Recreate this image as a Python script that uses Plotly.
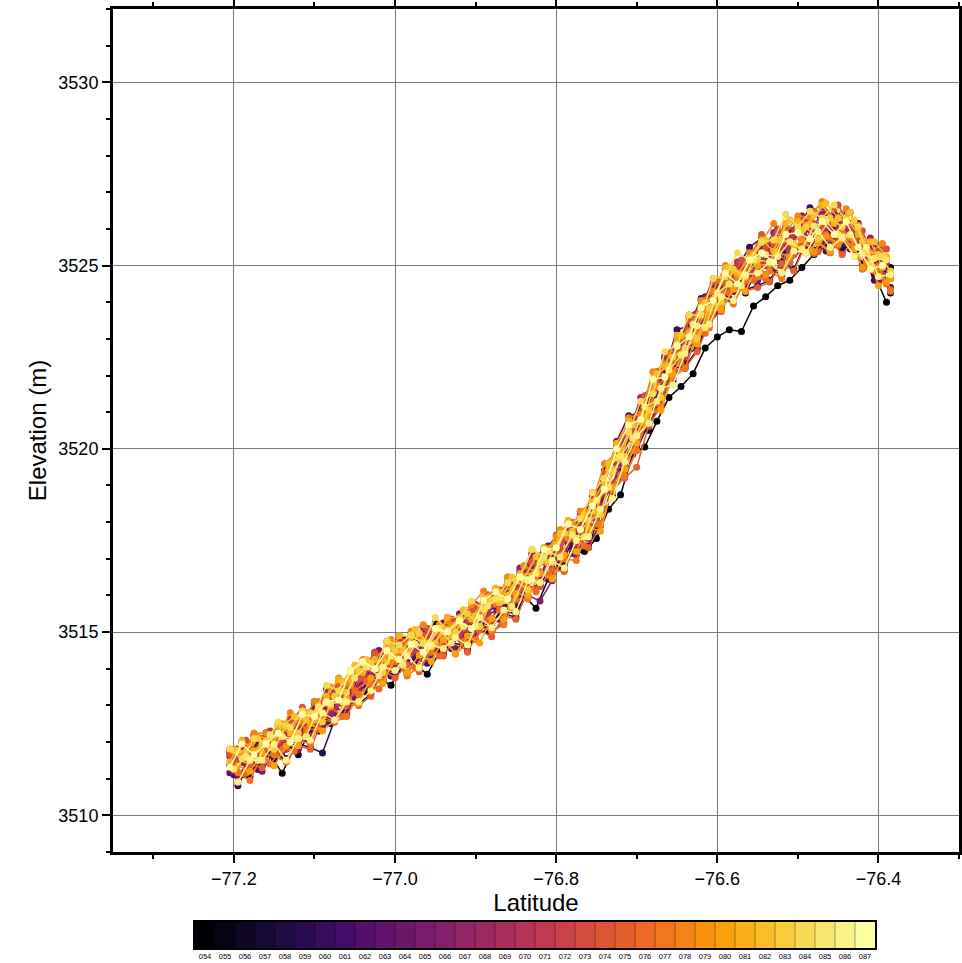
import plotly.graph_objects as go
from plotly.colors import sample_colorscale

# Three along-track sampling grids (repeat tracks are not sampled at identical latitudes)
LAT_A = [
    -77.200, -77.185, -77.170, -77.155, -77.140, -77.125, -77.110, -77.095, -77.080, -77.065, -77.050,
    -77.035, -77.020, -77.005, -76.990, -76.975, -76.960, -76.945, -76.930, -76.915, -76.900, -76.885,
    -76.870, -76.855, -76.840, -76.825, -76.810, -76.795, -76.780, -76.765, -76.750, -76.735, -76.720,
    -76.705, -76.690, -76.675, -76.660, -76.645, -76.630, -76.615, -76.600, -76.585, -76.570, -76.555,
    -76.540, -76.525, -76.510, -76.495, -76.480, -76.465, -76.450, -76.435, -76.420, -76.405, -76.390,
]
LAT_B = [
    -77.195, -77.180, -77.165, -77.150, -77.135, -77.120, -77.105, -77.090, -77.075, -77.060, -77.045,
    -77.030, -77.015, -77.000, -76.985, -76.970, -76.955, -76.940, -76.925, -76.910, -76.895, -76.880,
    -76.865, -76.850, -76.835, -76.820, -76.805, -76.790, -76.775, -76.760, -76.745, -76.730, -76.715,
    -76.700, -76.685, -76.670, -76.655, -76.640, -76.625, -76.610, -76.595, -76.580, -76.565, -76.550,
    -76.535, -76.520, -76.505, -76.490, -76.475, -76.460, -76.445, -76.430, -76.415, -76.400, -76.385,
]
LAT_C = [
    -77.205, -77.190, -77.175, -77.160, -77.145, -77.130, -77.115, -77.100, -77.085, -77.070, -77.055,
    -77.040, -77.025, -77.010, -76.995, -76.980, -76.965, -76.950, -76.935, -76.920, -76.905, -76.890,
    -76.875, -76.860, -76.845, -76.830, -76.815, -76.800, -76.785, -76.770, -76.755, -76.740, -76.725,
    -76.710, -76.695, -76.680, -76.665, -76.650, -76.635, -76.620, -76.605, -76.590, -76.575, -76.560,
    -76.545, -76.530, -76.515, -76.500, -76.485, -76.470, -76.455, -76.440, -76.425, -76.410, -76.395,
]

CYCLES = ["054", "055", "056", "057", "058", "059", "060", "061", "062", "063", "064", "065",
          "066", "067", "068", "069", "070", "071", "072", "073", "074", "075", "076", "077",
          "078", "079", "080", "081", "082", "083", "084", "085", "086", "087"]

# sampling grid used by each cycle, in the same order as CYCLES
CYCLE_GRID = ["A", "B", "C", "B", "A", "B", "C", "A", "B", "C", "A", "B",
              "C", "A", "C", "B", "A", "C", "B", "A", "C", "B", "A", "B",
              "C", "A", "B", "C", "A", "B", "C", "A", "B", "C"]

# Surface elevation (m) per repeat cycle
ELEV_054 = [3511.16, 3511.10, 3511.45, 3511.65, 3511.15, 3511.85, 3512.25, 3512.30, 3512.65, 3512.80, 3513.20,
            3513.35, 3513.75, 3513.55, 3514.10, 3514.12, 3513.85, 3514.45, 3514.70, 3514.65, 3515.00, 3515.02,
            3515.40, 3515.60, 3516.00, 3515.65, 3516.45, 3516.80, 3517.15, 3517.20, 3517.55, 3518.35, 3518.75,
            3519.85, 3520.05, 3520.75, 3521.40, 3521.70, 3522.05, 3522.75, 3523.05, 3523.25, 3523.20, 3523.90,
            3524.15, 3524.45, 3524.60, 3524.95, 3525.30, 3525.55, 3525.60, 3525.50, 3525.05, 3524.75, 3524.00]
ELEV_055 = [3511.61, 3511.35, 3511.85, 3511.60, 3512.15, 3512.15, 3512.75, 3512.45, 3513.00, 3513.10, 3513.75,
            3513.55, 3514.20, 3514.15, 3514.70, 3514.32, 3514.70, 3514.50, 3515.10, 3515.05, 3515.55, 3515.37,
            3515.95, 3515.75, 3516.40, 3516.50, 3517.25, 3517.05, 3517.60, 3517.55, 3518.55, 3518.95, 3519.90,
            3520.10, 3521.00, 3521.45, 3522.35, 3522.35, 3523.25, 3523.40, 3524.35, 3524.30, 3524.75, 3524.70,
            3525.35, 3525.15, 3525.85, 3525.50, 3525.98, 3525.75, 3526.20, 3525.50, 3525.55, 3524.70, 3524.95]
ELEV_056 = [3511.36, 3512.00, 3511.85, 3512.25, 3511.90, 3512.45, 3512.50, 3513.10, 3512.80, 3513.55, 3513.65,
            3513.90, 3514.40, 3514.10, 3514.65, 3514.87, 3514.65, 3515.25, 3515.00, 3515.30, 3515.20, 3515.87,
            3516.15, 3516.05, 3516.65, 3516.50, 3517.25, 3517.35, 3518.00, 3517.85, 3518.35, 3519.40, 3519.65,
            3520.25, 3521.15, 3521.60, 3522.50, 3522.50, 3523.40, 3523.55, 3524.50, 3524.45, 3524.90, 3524.85,
            3525.10, 3525.70, 3525.60, 3526.05, 3525.73, 3526.30, 3526.05, 3526.05, 3525.40, 3525.50, 3524.80]
ELEV_057 = [3511.16, 3511.05, 3511.80, 3511.55, 3511.95, 3511.65, 3512.35, 3512.40, 3512.95, 3512.80, 3513.40,
            3513.65, 3513.70, 3514.25, 3513.90, 3514.32, 3514.70, 3514.45, 3514.90, 3514.55, 3515.20, 3515.22,
            3515.70, 3515.50, 3516.15, 3516.25, 3517.00, 3516.80, 3517.35, 3517.30, 3518.30, 3518.70, 3519.65,
            3520.40, 3520.50, 3521.65, 3521.85, 3522.55, 3522.75, 3523.60, 3523.85, 3524.55, 3524.25, 3524.90,
            3525.00, 3524.70, 3525.45, 3525.50, 3525.43, 3525.95, 3525.45, 3525.60, 3525.15, 3524.95, 3524.25]
ELEV_058 = [3511.16, 3511.75, 3511.70, 3512.25, 3512.05, 3512.60, 3512.35, 3512.85, 3512.95, 3513.65, 3513.40,
            3513.65, 3514.30, 3514.25, 3514.80, 3514.42, 3514.80, 3514.60, 3515.20, 3515.15, 3515.65, 3515.47,
            3515.65, 3516.25, 3516.10, 3517.00, 3517.00, 3517.55, 3517.50, 3518.05, 3518.15, 3519.45, 3519.75,
            3520.35, 3521.25, 3521.40, 3522.15, 3523.00, 3523.10, 3523.90, 3523.85, 3524.65, 3525.05, 3525.00,
            3525.15, 3525.45, 3525.40, 3526.15, 3526.13, 3525.95, 3525.75, 3526.15, 3525.70, 3525.00, 3525.15]
ELEV_059 = [3510.81, 3511.45, 3511.35, 3511.90, 3511.55, 3511.95, 3511.85, 3511.70, 3512.60, 3513.10, 3513.05,
            3513.30, 3514.00, 3513.80, 3514.15, 3513.97, 3514.55, 3514.40, 3514.90, 3514.50, 3515.10, 3515.17,
            3515.50, 3515.40, 3516.20, 3516.30, 3516.75, 3516.70, 3517.55, 3517.35, 3517.95, 3519.00, 3519.25,
            3520.00, 3520.70, 3521.20, 3522.20, 3522.25, 3522.70, 3523.50, 3523.80, 3524.45, 3524.35, 3524.45,
            3524.60, 3525.10, 3524.90, 3525.65, 3525.43, 3525.80, 3525.35, 3525.75, 3525.10, 3525.05, 3524.40]
ELEV_060 = [3511.71, 3511.45, 3512.00, 3511.90, 3512.45, 3512.30, 3512.75, 3512.65, 3513.45, 3513.30, 3513.80,
            3514.05, 3513.95, 3514.75, 3514.50, 3514.52, 3515.00, 3514.70, 3515.25, 3515.25, 3515.75, 3515.52,
            3515.70, 3516.30, 3516.30, 3517.15, 3517.00, 3517.50, 3517.45, 3518.20, 3518.60, 3519.05, 3520.20,
            3520.90, 3521.00, 3521.85, 3522.15, 3523.25, 3523.35, 3524.10, 3524.05, 3524.90, 3524.95, 3525.50,
            3525.75, 3525.45, 3526.05, 3526.00, 3526.58, 3526.15, 3526.40, 3526.10, 3526.15, 3525.15, 3525.45]
ELEV_061 = [3511.11, 3511.60, 3511.25, 3511.80, 3511.60, 3512.30, 3512.10, 3512.55, 3512.50, 3513.25, 3513.25,
            3513.50, 3513.85, 3513.80, 3514.45, 3514.27, 3514.15, 3514.70, 3514.55, 3515.20, 3514.95, 3515.37,
            3515.35, 3516.05, 3516.00, 3516.60, 3516.45, 3517.25, 3517.30, 3517.95, 3517.85, 3518.95, 3519.40,
            3520.05, 3520.95, 3521.10, 3522.10, 3522.50, 3523.30, 3523.35, 3524.00, 3524.10, 3524.90, 3524.75,
            3524.75, 3525.35, 3525.10, 3525.45, 3525.78, 3525.40, 3525.90, 3525.45, 3525.30, 3524.60, 3524.90]
ELEV_062 = [3511.81, 3511.60, 3512.05, 3511.80, 3512.20, 3512.05, 3512.80, 3512.80, 3513.20, 3513.10, 3513.95,
            3514.20, 3513.95, 3514.50, 3514.25, 3514.87, 3514.75, 3515.25, 3514.95, 3515.30, 3515.20, 3515.82,
            3516.10, 3516.00, 3516.75, 3516.55, 3517.15, 3517.20, 3517.85, 3517.90, 3518.70, 3518.90, 3520.00,
            3520.60, 3520.70, 3521.85, 3522.30, 3522.55, 3523.45, 3523.55, 3524.50, 3524.50, 3524.60, 3525.15,
            3525.40, 3525.40, 3525.95, 3525.60, 3525.88, 3526.20, 3526.40, 3525.70, 3525.55, 3525.35, 3524.80]
ELEV_063 = [3511.16, 3511.80, 3511.70, 3512.25, 3511.85, 3512.30, 3512.20, 3512.90, 3512.95, 3513.55, 3513.45,
            3513.65, 3514.20, 3514.00, 3514.70, 3514.52, 3514.90, 3514.70, 3515.10, 3514.90, 3515.65, 3515.47,
            3515.70, 3516.35, 3516.15, 3516.65, 3517.25, 3517.15, 3517.80, 3517.60, 3518.45, 3519.35, 3519.75,
            3520.30, 3520.95, 3521.30, 3522.45, 3522.85, 3523.10, 3523.35, 3524.35, 3524.60, 3524.60, 3525.20,
            3525.45, 3525.15, 3525.70, 3525.50, 3526.08, 3525.95, 3526.30, 3525.60, 3525.60, 3524.95, 3525.10]
ELEV_064 = [3511.76, 3511.45, 3512.10, 3512.05, 3512.45, 3512.20, 3512.75, 3512.65, 3513.45, 3513.35, 3513.80,
            3513.95, 3514.50, 3514.25, 3514.65, 3514.62, 3515.10, 3514.70, 3515.35, 3515.35, 3515.25, 3515.92,
            3516.10, 3516.15, 3516.60, 3516.55, 3517.35, 3517.70, 3517.65, 3518.10, 3518.30, 3519.40, 3520.25,
            3520.85, 3521.00, 3522.10, 3522.15, 3523.05, 3523.25, 3524.15, 3524.05, 3524.80, 3524.65, 3525.35,
            3525.40, 3526.00, 3525.90, 3526.35, 3526.03, 3526.45, 3526.25, 3526.45, 3525.60, 3525.60, 3525.20]
ELEV_065 = [3511.06, 3511.55, 3511.20, 3511.75, 3511.95, 3511.80, 3512.50, 3512.35, 3512.75, 3512.75, 3513.50,
            3513.80, 3513.65, 3514.20, 3513.85, 3514.42, 3514.35, 3514.85, 3514.55, 3514.75, 3515.25, 3515.02,
            3515.25, 3515.90, 3516.00, 3515.85, 3516.40, 3517.10, 3517.10, 3517.90, 3517.90, 3518.85, 3519.25,
            3520.00, 3520.95, 3521.25, 3522.10, 3522.20, 3523.20, 3523.40, 3524.00, 3524.05, 3524.85, 3524.60,
            3524.90, 3524.75, 3525.55, 3525.35, 3525.78, 3525.35, 3525.80, 3525.45, 3525.45, 3524.55, 3524.65]
ELEV_066 = [3511.61, 3511.65, 3512.15, 3511.80, 3512.20, 3512.65, 3512.50, 3513.05, 3512.80, 3513.55, 3513.65,
            3514.15, 3513.90, 3514.50, 3514.40, 3514.97, 3514.60, 3515.00, 3514.80, 3515.50, 3515.35, 3515.82,
            3516.10, 3515.95, 3516.75, 3516.70, 3517.15, 3517.15, 3517.85, 3517.95, 3518.70, 3518.90, 3520.00,
            3520.65, 3520.70, 3521.85, 3522.30, 3522.65, 3523.60, 3523.55, 3524.30, 3524.55, 3525.05, 3524.80,
            3525.00, 3525.55, 3525.55, 3526.15, 3525.98, 3526.40, 3525.90, 3526.00, 3525.55, 3525.50, 3524.75]
ELEV_067 = [3511.21, 3511.85, 3511.70, 3512.10, 3511.75, 3512.45, 3512.45, 3513.05, 3512.75, 3513.40, 3513.45,
            3513.65, 3514.25, 3514.00, 3514.55, 3514.52, 3514.95, 3514.70, 3515.05, 3514.90, 3515.65, 3515.47,
            3515.65, 3516.35, 3516.15, 3516.65, 3517.15, 3517.00, 3517.80, 3517.80, 3518.40, 3518.90, 3520.10,
            3520.70, 3520.80, 3521.70, 3521.90, 3522.75, 3522.90, 3523.85, 3524.05, 3524.60, 3524.45, 3525.25,
            3525.45, 3525.15, 3525.70, 3525.50, 3526.13, 3525.95, 3526.30, 3525.70, 3525.60, 3524.85, 3525.05]
ELEV_068 = [3511.76, 3511.50, 3512.05, 3511.95, 3512.50, 3512.20, 3512.70, 3512.80, 3513.40, 3513.15, 3513.95,
            3513.95, 3514.45, 3514.15, 3514.70, 3514.52, 3515.15, 3514.85, 3515.20, 3515.05, 3515.70, 3515.62,
            3515.85, 3516.25, 3516.25, 3517.10, 3517.10, 3517.15, 3517.85, 3517.85, 3518.80, 3519.10, 3520.00,
            3520.45, 3521.40, 3521.70, 3522.55, 3522.65, 3523.65, 3523.85, 3524.65, 3524.50, 3525.10, 3525.10,
            3525.35, 3525.90, 3525.65, 3526.25, 3526.23, 3526.60, 3526.20, 3526.25, 3525.65, 3525.75, 3525.15]
ELEV_069 = [3511.41, 3511.30, 3512.05, 3511.80, 3511.80, 3512.35, 3512.15, 3512.80, 3512.90, 3513.50, 3513.35,
            3513.55, 3514.10, 3514.05, 3514.70, 3514.37, 3514.70, 3514.50, 3515.10, 3515.20, 3515.10, 3515.77,
            3516.00, 3515.85, 3516.35, 3516.40, 3517.25, 3517.15, 3517.75, 3517.55, 3518.45, 3519.00, 3520.00,
            3520.55, 3520.60, 3521.60, 3521.95, 3522.95, 3522.95, 3523.65, 3523.95, 3524.70, 3524.40, 3525.15,
            3525.20, 3525.00, 3525.75, 3525.70, 3525.98, 3525.70, 3526.25, 3525.60, 3525.45, 3525.30, 3524.65]
ELEV_070 = [3511.31, 3511.70, 3511.75, 3512.30, 3511.90, 3512.05, 3512.65, 3512.75, 3513.25, 3513.20, 3513.35,
            3513.70, 3514.25, 3514.05, 3514.75, 3514.52, 3514.95, 3514.65, 3515.35, 3515.15, 3515.75, 3515.52,
            3516.00, 3515.80, 3516.45, 3516.55, 3517.30, 3517.25, 3517.75, 3517.70, 3518.70, 3519.00, 3519.90,
            3520.50, 3520.70, 3521.90, 3522.10, 3522.55, 3523.40, 3523.40, 3524.25, 3524.50, 3525.05, 3524.85,
            3525.00, 3525.50, 3525.45, 3526.15, 3525.83, 3526.10, 3525.75, 3526.05, 3525.70, 3524.95, 3525.20]
ELEV_071 = [3511.71, 3511.55, 3512.20, 3511.80, 3512.25, 3512.15, 3512.85, 3512.55, 3513.15, 3513.05, 3513.80,
            3513.80, 3514.45, 3514.35, 3514.75, 3514.42, 3514.90, 3514.85, 3515.35, 3514.95, 3515.60, 3515.62,
            3515.85, 3516.40, 3516.15, 3516.90, 3517.30, 3517.25, 3518.00, 3517.90, 3518.50, 3518.95, 3520.10,
            3520.75, 3520.90, 3521.85, 3521.95, 3522.95, 3523.25, 3524.05, 3524.05, 3524.50, 3525.05, 3524.85,
            3525.05, 3525.60, 3525.65, 3526.15, 3525.73, 3526.20, 3525.90, 3526.25, 3525.50, 3525.25, 3524.75]
ELEV_072 = [3511.61, 3511.40, 3512.10, 3511.85, 3512.10, 3512.00, 3512.65, 3512.70, 3513.25, 3513.00, 3513.70,
            3514.00, 3513.75, 3514.50, 3514.50, 3514.42, 3515.00, 3514.65, 3515.10, 3515.10, 3515.55, 3515.27,
            3515.50, 3516.15, 3516.20, 3516.95, 3516.95, 3517.60, 3517.40, 3517.95, 3518.25, 3519.40, 3519.55,
            3520.15, 3521.10, 3521.45, 3522.45, 3522.50, 3523.25, 3523.35, 3524.25, 3524.45, 3525.00, 3524.85,
            3525.00, 3525.50, 3525.30, 3526.05, 3525.88, 3526.20, 3525.85, 3525.95, 3525.30, 3525.40, 3524.80]
ELEV_073 = [3511.51, 3512.05, 3511.75, 3512.15, 3512.10, 3512.65, 3512.35, 3513.10, 3513.20, 3513.20, 3513.95,
            3514.15, 3514.15, 3514.55, 3514.30, 3514.92, 3515.10, 3514.90, 3515.20, 3515.10, 3515.65, 3516.02,
            3516.15, 3516.05, 3516.80, 3516.60, 3517.25, 3517.25, 3518.00, 3517.75, 3518.55, 3518.90, 3520.05,
            3520.50, 3521.45, 3521.75, 3522.60, 3522.70, 3523.55, 3523.80, 3524.60, 3524.45, 3525.15, 3525.20,
            3525.50, 3525.95, 3525.65, 3526.25, 3526.48, 3526.20, 3526.65, 3526.10, 3525.95, 3525.20, 3525.45]
ELEV_074 = [3511.66, 3511.70, 3512.20, 3511.80, 3512.05, 3512.50, 3512.95, 3512.65, 3513.05, 3513.60, 3513.55,
            3513.75, 3514.40, 3514.35, 3514.90, 3514.57, 3514.90, 3514.70, 3515.40, 3515.25, 3515.65, 3515.52,
            3515.75, 3516.50, 3516.35, 3516.90, 3516.90, 3517.65, 3517.65, 3518.30, 3518.20, 3519.35, 3519.90,
            3520.65, 3520.75, 3521.90, 3522.35, 3522.60, 3523.50, 3523.60, 3524.55, 3524.55, 3524.65, 3525.20,
            3525.85, 3525.60, 3526.10, 3525.90, 3526.33, 3526.05, 3526.55, 3526.15, 3526.00, 3525.15, 3525.50]
ELEV_075 = [3510.91, 3511.40, 3511.30, 3511.85, 3511.50, 3511.90, 3511.80, 3512.60, 3512.55, 3513.05, 3513.00,
            3513.25, 3513.95, 3513.75, 3514.10, 3513.92, 3514.50, 3514.35, 3514.85, 3514.45, 3515.05, 3514.87,
            3515.45, 3515.35, 3516.15, 3516.25, 3516.70, 3516.65, 3517.50, 3517.30, 3517.90, 3518.95, 3519.20,
            3519.50, 3520.65, 3521.15, 3522.15, 3522.20, 3522.65, 3523.45, 3523.75, 3524.40, 3524.30, 3524.40,
            3524.55, 3525.05, 3524.85, 3525.60, 3525.38, 3525.75, 3525.30, 3525.70, 3525.05, 3525.00, 3524.35]
ELEV_076 = [3511.31, 3511.15, 3511.80, 3511.40, 3511.80, 3511.75, 3512.35, 3512.35, 3512.95, 3512.70, 3513.40,
            3513.65, 3513.45, 3514.20, 3514.20, 3514.02, 3514.55, 3514.35, 3515.00, 3514.75, 3514.80, 3515.32,
            3515.60, 3515.70, 3516.30, 3516.10, 3516.55, 3517.10, 3517.60, 3517.35, 3517.95, 3518.95, 3519.30,
            3519.95, 3520.90, 3521.25, 3522.25, 3522.35, 3523.05, 3523.15, 3524.15, 3524.25, 3524.70, 3524.60,
            3524.65, 3525.30, 3525.10, 3525.50, 3525.33, 3525.85, 3525.55, 3525.75, 3524.90, 3524.85, 3524.50]
ELEV_077 = [3511.16, 3510.95, 3511.65, 3511.65, 3511.45, 3512.05, 3511.95, 3512.70, 3512.55, 3512.70, 3513.30,
            3513.60, 3513.65, 3514.20, 3513.80, 3514.07, 3514.45, 3514.80, 3514.40, 3514.70, 3515.15, 3515.02,
            3515.20, 3515.90, 3515.90, 3516.65, 3516.50, 3517.00, 3516.95, 3517.80, 3517.95, 3518.90, 3519.25,
            3519.95, 3520.95, 3521.15, 3521.95, 3522.20, 3523.15, 3523.30, 3524.10, 3523.95, 3524.60, 3524.70,
            3524.85, 3524.65, 3525.40, 3525.35, 3525.63, 3525.35, 3525.90, 3525.25, 3525.10, 3524.95, 3524.30]
ELEV_078 = [3511.81, 3511.55, 3512.25, 3512.25, 3512.15, 3512.80, 3512.55, 3513.10, 3513.20, 3513.75, 3513.55,
            3514.25, 3514.25, 3514.65, 3514.40, 3515.02, 3515.20, 3515.00, 3515.30, 3515.20, 3515.75, 3516.12,
            3515.80, 3516.50, 3516.50, 3517.25, 3517.05, 3517.60, 3517.55, 3518.30, 3518.55, 3519.60, 3519.90,
            3520.85, 3520.95, 3522.10, 3522.30, 3523.00, 3523.20, 3524.05, 3524.30, 3525.00, 3524.70, 3525.35,
            3525.65, 3526.15, 3525.90, 3526.35, 3526.33, 3526.75, 3526.20, 3526.55, 3526.10, 3525.35, 3525.60]
ELEV_079 = [3511.81, 3511.50, 3512.15, 3512.10, 3512.50, 3512.25, 3512.80, 3512.70, 3513.50, 3513.40, 3513.85,
            3514.10, 3514.00, 3514.80, 3514.55, 3514.97, 3514.60, 3515.20, 3515.15, 3515.60, 3515.35, 3515.87,
            3516.10, 3516.20, 3516.80, 3516.65, 3517.25, 3517.80, 3517.70, 3518.30, 3518.25, 3519.45, 3519.95,
            3520.65, 3520.70, 3521.70, 3522.05, 3523.05, 3523.05, 3523.75, 3523.85, 3524.80, 3524.70, 3525.20,
            3524.75, 3525.35, 3525.25, 3525.70, 3525.38, 3525.80, 3525.60, 3525.80, 3524.95, 3524.95, 3524.55]
ELEV_080 = [3511.36, 3511.20, 3511.70, 3511.35, 3511.90, 3511.90, 3512.50, 3512.30, 3512.60, 3513.20, 3513.05,
            3513.75, 3513.60, 3514.30, 3513.90, 3514.37, 3514.20, 3514.80, 3514.40, 3514.90, 3514.70, 3515.37,
            3515.35, 3516.05, 3516.00, 3516.60, 3516.45, 3517.10, 3517.20, 3517.85, 3517.75, 3518.95, 3519.45,
            3520.15, 3520.95, 3521.05, 3522.05, 3522.70, 3522.85, 3523.75, 3523.80, 3524.35, 3524.30, 3525.00,
            3525.05, 3524.80, 3525.55, 3525.35, 3525.63, 3525.40, 3525.80, 3525.45, 3525.45, 3524.45, 3524.65]
ELEV_081 = [3511.46, 3512.05, 3511.75, 3512.05, 3512.45, 3512.25, 3512.85, 3512.60, 3513.25, 3513.70, 3513.70,
            3513.90, 3514.25, 3514.20, 3514.90, 3514.87, 3514.75, 3514.70, 3515.40, 3515.40, 3515.35, 3515.92,
            3516.20, 3516.00, 3516.60, 3516.55, 3517.30, 3517.40, 3518.05, 3517.80, 3518.55, 3519.10, 3520.15,
            3520.75, 3520.75, 3521.85, 3522.25, 3523.10, 3523.15, 3523.90, 3524.00, 3524.95, 3524.80, 3525.20,
            3525.70, 3525.40, 3526.15, 3526.20, 3526.13, 3526.65, 3526.15, 3526.30, 3525.85, 3525.65, 3524.95]
ELEV_082 = [3511.76, 3511.75, 3512.10, 3511.85, 3512.45, 3512.70, 3512.60, 3513.00, 3513.00, 3513.65, 3514.10,
            3514.25, 3514.00, 3514.60, 3514.50, 3515.07, 3514.70, 3515.10, 3514.90, 3515.60, 3515.45, 3515.92,
            3515.80, 3516.50, 3516.45, 3517.05, 3516.90, 3517.70, 3517.75, 3518.20, 3518.30, 3519.60, 3519.80,
            3520.65, 3520.85, 3522.05, 3522.25, 3523.10, 3523.10, 3524.00, 3524.25, 3524.95, 3524.75, 3525.30,
            3525.70, 3525.70, 3526.25, 3525.95, 3526.38, 3526.70, 3526.30, 3526.45, 3525.65, 3525.65, 3525.25]
ELEV_083 = [3511.76, 3511.55, 3511.95, 3511.80, 3512.45, 3512.25, 3512.80, 3512.55, 3513.25, 3513.35, 3513.95,
            3514.15, 3513.90, 3514.50, 3514.40, 3514.97, 3514.60, 3515.00, 3515.00, 3515.50, 3515.15, 3515.87,
            3515.85, 3516.40, 3516.15, 3516.90, 3516.90, 3517.70, 3517.55, 3518.05, 3518.20, 3519.40, 3519.80,
            3520.40, 3521.05, 3521.40, 3522.50, 3522.75, 3523.00, 3523.85, 3524.00, 3524.90, 3524.70, 3525.15,
            3525.10, 3525.70, 3525.60, 3526.05, 3525.73, 3526.30, 3526.05, 3526.25, 3525.40, 3525.30, 3524.85]
ELEV_084 = [3511.81, 3511.55, 3512.10, 3512.00, 3512.55, 3512.40, 3512.85, 3512.75, 3513.55, 3513.40, 3513.90,
            3514.15, 3514.00, 3514.75, 3514.65, 3514.92, 3514.70, 3515.40, 3515.05, 3515.35, 3515.85, 3515.62,
            3515.90, 3516.35, 3516.50, 3517.25, 3517.05, 3517.30, 3517.95, 3518.10, 3518.80, 3519.20, 3519.75,
            3520.45, 3521.30, 3521.50, 3522.65, 3522.85, 3523.65, 3523.65, 3524.65, 3524.70, 3525.35, 3525.15,
            3525.65, 3525.70, 3526.40, 3526.05, 3526.48, 3526.30, 3526.65, 3526.25, 3526.05, 3525.05, 3525.25]
ELEV_085 = [3511.26, 3511.60, 3511.50, 3512.20, 3512.15, 3512.10, 3512.15, 3512.95, 3513.05, 3513.10, 3513.75,
            3514.05, 3513.80, 3514.35, 3514.10, 3514.67, 3514.60, 3515.10, 3514.70, 3515.15, 3515.15, 3515.72,
            3515.95, 3515.70, 3516.45, 3516.60, 3517.20, 3517.05, 3517.65, 3517.60, 3518.60, 3518.95, 3519.80,
            3520.30, 3521.15, 3521.30, 3522.15, 3522.55, 3523.40, 3523.30, 3524.25, 3524.50, 3524.45, 3525.15,
            3525.30, 3525.25, 3525.65, 3525.45, 3526.08, 3526.20, 3525.85, 3525.85, 3525.30, 3525.20, 3525.15]
ELEV_086 = [3510.91, 3511.50, 3511.50, 3511.95, 3511.50, 3512.10, 3512.05, 3512.80, 3512.60, 3513.10, 3513.10,
            3513.40, 3514.05, 3513.95, 3514.35, 3514.02, 3514.65, 3514.55, 3514.85, 3514.65, 3515.40, 3515.12,
            3515.60, 3515.55, 3516.40, 3516.35, 3516.95, 3516.75, 3517.50, 3517.60, 3518.35, 3518.65, 3519.65,
            3520.35, 3520.70, 3521.65, 3521.75, 3522.60, 3523.35, 3523.40, 3524.15, 3524.05, 3524.75, 3524.80,
            3525.10, 3524.80, 3525.40, 3525.35, 3525.93, 3525.50, 3525.75, 3525.25, 3525.50, 3524.70, 3524.75]
ELEV_087 = [3511.31, 3511.95, 3511.65, 3511.95, 3512.25, 3512.00, 3512.75, 3512.70, 3513.10, 3513.15, 3513.95,
            3514.20, 3514.00, 3514.50, 3514.25, 3514.67, 3514.45, 3515.10, 3515.00, 3515.30, 3515.10, 3515.87,
            3516.10, 3515.90, 3516.50, 3516.45, 3517.25, 3517.30, 3517.95, 3517.80, 3518.45, 3518.90, 3520.00,
            3520.65, 3520.80, 3521.90, 3521.95, 3522.80, 3523.05, 3523.85, 3524.05, 3524.80, 3524.50, 3525.15,
            3525.35, 3525.10, 3525.85, 3525.90, 3525.73, 3526.20, 3525.85, 3526.20, 3525.50, 3524.90, 3525.00]

ELEVATION = {
    "054": ELEV_054, "055": ELEV_055, "056": ELEV_056, "057": ELEV_057, "058": ELEV_058,
    "059": ELEV_059, "060": ELEV_060, "061": ELEV_061, "062": ELEV_062, "063": ELEV_063,
    "064": ELEV_064, "065": ELEV_065, "066": ELEV_066, "067": ELEV_067, "068": ELEV_068,
    "069": ELEV_069, "070": ELEV_070, "071": ELEV_071, "072": ELEV_072, "073": ELEV_073,
    "074": ELEV_074, "075": ELEV_075, "076": ELEV_076, "077": ELEV_077, "078": ELEV_078,
    "079": ELEV_079, "080": ELEV_080, "081": ELEV_081, "082": ELEV_082, "083": ELEV_083,
    "084": ELEV_084, "085": ELEV_085, "086": ELEV_086, "087": ELEV_087,
}
LATITUDE = {"A": LAT_A, "B": LAT_B, "C": LAT_C}

# ---------------------------------------------------------------- styling
FONT = "Liberation Sans, Arial, Helvetica, sans-serif"
W, H = 962, 963
M_L, M_R, M_T, M_B = 113, 3, 9, 15
PAPER_H = H - M_T - M_B
PAPER_W = W - M_L - M_R

n = len(CYCLES)
colors = sample_colorscale("Inferno", [i / (n - 1) for i in range(n)])
cycle_num = [int(c) for c in CYCLES]

# stepped colour scale so each cycle gets one flat cell
step_scale = []
for i, col in enumerate(colors):
    step_scale.append([i / n, col])
    step_scale.append([(i + 1) / n, col])

fig = go.Figure()

for cyc, grid, col in zip(CYCLES, CYCLE_GRID, colors):
    fig.add_trace(go.Scatter(
        x=LATITUDE[grid], y=ELEVATION[cyc], mode="lines+markers", name=cyc,
        line=dict(color=col, width=1.5),
        marker=dict(color=col, size=7),
        showlegend=False, hoverinfo="skip",
        xaxis="x", yaxis="y",
    ))

# discrete colour key underneath the profile
fig.add_trace(go.Heatmap(
    z=[cycle_num], x=cycle_num, y=[0],
    colorscale=step_scale, zmin=cycle_num[0] - 0.5, zmax=cycle_num[-1] + 0.5,
    showscale=False, hoverinfo="skip", xaxis="x2", yaxis="y2",
))

for k in cycle_num[:-1]:
    fig.add_shape(type="line", xref="x2", yref="y2 domain",
                  x0=k + 0.5, x1=k + 0.5, y0=0, y1=1,
                  line=dict(color="rgba(0,0,0,0.35)", width=1), layer="above")

main_bottom = (H - M_B - 852) / PAPER_H
cb_x0 = (195 - M_L) / PAPER_W
cb_x1 = (875 - M_L) / PAPER_W
cb_h = 26 / PAPER_H

axis_common = dict(
    showline=True, linecolor="black", linewidth=3, mirror="allticks",
    ticks="outside", ticklen=8, tickwidth=1.5, tickcolor="black",
    showgrid=True, gridcolor="#7a7a7a", gridwidth=1, zeroline=False,
    tickfont=dict(family=FONT, size=18, color="black"), automargin=False,
)

fig.update_layout(
    width=W, height=H,
    margin=dict(l=M_L, r=M_R, t=M_T, b=M_B, autoexpand=False),
    paper_bgcolor="white", plot_bgcolor="white",
    font=dict(family=FONT, color="black"),
    xaxis=dict(
        **axis_common, domain=[0, 1], anchor="y",
        range=[-77.35, -76.30], tick0=-77.2, dtick=0.2, tickformat=".1f",
        minor=dict(tick0=-77.2, dtick=0.1, ticks="outside", ticklen=4,
                   tickwidth=1.5, tickcolor="black", showgrid=False),
        title=dict(text="Latitude", font=dict(family=FONT, size=24), standoff=7),
    ),
    yaxis=dict(
        **axis_common, domain=[main_bottom, 1], anchor="x",
        range=[3509, 3532], tick0=3510, dtick=5,
        minor=dict(tick0=3510, dtick=1, ticks="outside", ticklen=4,
                   tickwidth=1.5, tickcolor="black", showgrid=False),
        title=dict(text="Elevation (m)", font=dict(family=FONT, size=24), standoff=5),
    ),
    xaxis2=dict(
        domain=[cb_x0, cb_x1], anchor="y2",
        range=[cycle_num[0] - 0.5, cycle_num[-1] + 0.5],
        tickvals=cycle_num, ticktext=CYCLES, ticks="",
        tickfont=dict(family=FONT, size=7.5, color="black"),
        showline=True, linecolor="black", linewidth=2, mirror=True,
        showgrid=False, zeroline=False, automargin=False,
    ),
    yaxis2=dict(
        domain=[0, cb_h], anchor="x2", range=[-0.5, 0.5],
        showticklabels=False, ticks="",
        showline=True, linecolor="black", linewidth=2, mirror=True,
        showgrid=False, zeroline=False, automargin=False,
    ),
)

fig.write_html("out.html", config={"displayModeBar": False})
